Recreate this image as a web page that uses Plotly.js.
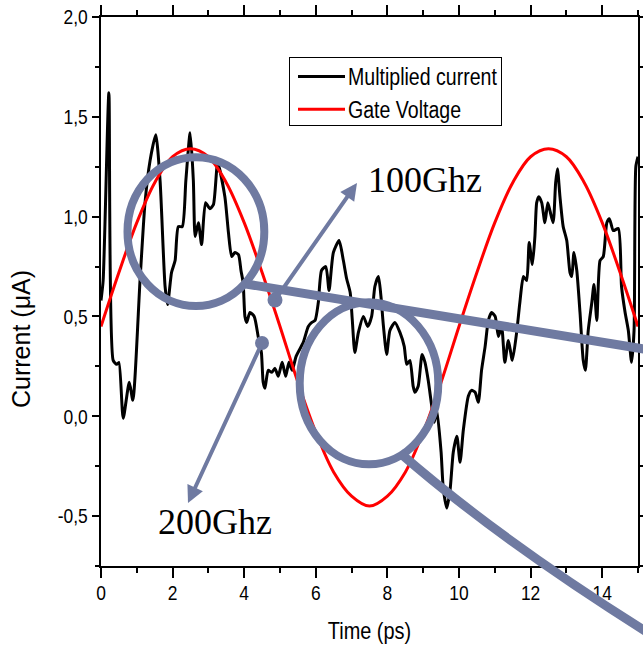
<!DOCTYPE html>
<html>
<head>
<meta charset="utf-8">
<script src="https://cdn.plot.ly/plotly-3.0.1.min.js"></script>
<style>html,body{margin:0;padding:0;background:#fff;}#chart{width:643px;height:652px;}</style>
</head>
<body>
<div id="chart"></div>
<script>
// ---- data ----
const currentTime = [0,0.06,0.22,0.34,0.44,0.50,0.62,0.79,0.89,1.09,
  1.23,1.37,1.53,1.65,1.79,1.86,1.97,2.07,2.16,2.27,
  2.37,2.49,2.58,2.63,2.72,2.81,2.92,3.04,3.14,3.26,
  3.46,3.56,3.65,3.74,3.84,3.91,3.97,4.02,4.07,4.16,
  4.28,4.39,4.48,4.53,4.58,4.67,4.77,4.86,4.95,5.06,
  5.16,5.25,5.34,5.45,5.65,5.79,5.89,5.98,6.07,6.16,
  6.28,6.37,6.49,6.65,6.77,6.86,6.96,7.02,7.09,7.19,
  7.33,7.45,7.56,7.65,7.75,7.82,7.89,7.98,8.07,8.21,
  8.35,8.47,8.54,8.63,8.72,8.77,8.86,8.97,9.05,9.14,
  9.24,9.31,9.38,9.50,9.56,9.66,9.75,9.84,9.94,10.03,
  10.12,10.26,10.35,10.45,10.54,10.63,10.73,10.82,10.91,11.01,
  11.10,11.19,11.28,11.38,11.49,11.61,11.70,11.80,11.89,11.96,
  12.05,12.12,12.17,12.23,12.31,12.40,12.48,12.54,12.63,12.70,
  12.75,12.82,12.91,13.01,13.10,13.15,13.21,13.29,13.38,13.47,
  13.53,13.61,13.71,13.77,13.85,13.94,14.03,14.13,14.20,14.31,
  14.45,14.54,14.64,14.73,14.82,14.89,14.94,15.0];
const currentValues = [0.58,0.68,1.62,0.28,0.26,0.27,-0.01,0.17,0.08,0.68,
  1.07,1.28,1.41,1.18,0.65,0.56,0.72,0.78,0.95,0.95,
  1.18,1.42,1.18,0.90,0.97,0.86,1.07,1.04,1.06,1.27,
  1.10,0.92,0.80,0.82,0.81,0.73,0.67,0.50,0.47,0.52,
  0.50,0.40,0.32,0.17,0.14,0.23,0.22,0.24,0.20,0.27,
  0.20,0.27,0.23,0.30,0.37,0.45,0.47,0.48,0.57,0.73,
  0.75,0.63,0.82,0.88,0.78,0.69,0.62,0.48,0.32,0.42,
  0.50,0.45,0.50,0.65,0.70,0.60,0.45,0.31,0.43,0.47,
  0.42,0.35,0.26,0.28,0.15,0.12,0.15,0.31,0.27,0.18,
  0.05,-0.03,0.03,-0.18,-0.36,-0.46,-0.37,-0.18,-0.10,-0.23,
  -0.07,0.10,0.13,0.12,0.07,0.23,0.35,0.48,0.52,0.50,
  0.40,0.45,0.27,0.38,0.28,0.42,0.57,0.70,0.68,0.87,
  0.76,0.90,1.07,1.10,1.07,0.97,1.07,1.03,0.97,1.17,
  1.24,1.10,0.95,0.88,0.72,0.70,0.82,0.73,0.52,0.28,
  0.23,0.43,0.57,0.66,0.48,0.78,0.80,0.97,0.99,0.93,
  0.94,0.65,0.52,0.43,0.27,0.43,1.25,1.30];
const gateTime = [0,0.5,1,1.5,2,2.5,3,3.5,4,4.5,5,5.5,6,6.5,7,7.5,8,8.5,9,9.5,10,
  10.5,11,11.5,12,12.5,13,13.5,14,14.5,15];
const gateValues = [0.45,0.72,0.97,1.17,1.30,1.34,1.30,1.17,0.97,0.72,0.45,0.17,-0.08,-0.28,-0.40,-0.45,
  -0.40,-0.28,-0.08,0.17,0.45,0.72,0.97,1.17,1.30,1.34,1.30,1.17,0.97,0.72,0.45];
const seriesNames = ['Multiplied current', 'Gate Voltage'];
const xTickVals = [0,2,4,6,8,10,12,14];
const yTickVals = [-0.5,0,0.5,1,1.5,2];
const yTickText = ['-0,5','0,0','0,5','1,0','1,5','2,0'];

// ---- styling ----
const SANS = '"Liberation Sans", Arial, sans-serif';
const SERIF = '"Liberation Serif", "Times New Roman", serif';
const SLATE = '#6f7aa1';
const L = 101, R = 638, T = 17, B = 566;
const PX = px => (px - L) / (R - L);
const PY = py => (B - py) / (B - T);

const traces = [
  {x: currentTime, y: currentValues, name: seriesNames[0], type: 'scatter', mode: 'lines',
   line: {color: '#000000', width: 3, shape: 'spline', smoothing: 0.6}},
  {x: gateTime, y: gateValues, name: seriesNames[1], type: 'scatter', mode: 'lines',
   line: {color: '#ff0000', width: 3, shape: 'spline', smoothing: 1}}
];

const axisCommon = {
  showgrid: false, zeroline: false, showline: true, linecolor: '#000', linewidth: 2,
  mirror: 'ticks', ticks: 'outside', tickcolor: '#000', tickwidth: 2,
  tickfont: {family: SANS, size: 21, color: '#000'}
};

const path2 = 'M ' + PX(400) + ',' + PY(453) + ' Q ' + PX(500) + ',' + PY(540) + ' ' + PX(650) + ',' + PY(634);

const layout = {
  width: 643, height: 652,
  margin: {l: L, r: 643 - R, t: T, b: 652 - B},
  paper_bgcolor: '#fff', plot_bgcolor: '#fff',
  showlegend: true,
  legend: {x: PX(289), y: PY(54), xanchor: 'left', yanchor: 'top', bgcolor: '#fff',
    bordercolor: '#000', borderwidth: 1, font: {family: SANS, size: 23, color: '#000'},
    itemwidth: 48, tracegroupgap: 0},
  xaxis: Object.assign({}, axisCommon, {
    range: [0, 15], tickmode: 'array', tickvals: xTickVals, ticklen: 10, ticklabelstandoff: -3,
    minor: {dtick: 1, tick0: 0, ticklen: 5, tickwidth: 2, tickcolor: '#000', ticks: 'outside'},
    title: {text: 'Time (ps)', font: {family: SANS, size: 24, color: '#000'}, standoff: 19}
  }),
  yaxis: Object.assign({}, axisCommon, {
    range: [-0.75, 2.0], tickmode: 'array', tickvals: yTickVals, ticktext: yTickText, ticklen: 7,
    minor: {dtick: 0.25, tick0: 0, ticklen: 4, tickwidth: 2, tickcolor: '#000', ticks: 'outside'}
  }),
  shapes: [
    {type: 'circle', xref: 'paper', yref: 'paper', x0: PX(127.5), x1: PX(264.3), y0: PY(306), y1: PY(157.3),
     line: {color: SLATE, width: 8}},
    {type: 'circle', xref: 'paper', yref: 'paper', x0: PX(299.7), x1: PX(438.3), y0: PY(464.3), y1: PY(302.3),
     line: {color: SLATE, width: 8}},
    {type: 'line', xref: 'paper', yref: 'paper', x0: PX(246), y0: PY(284), x1: PX(650), y1: PY(350),
     line: {color: SLATE, width: 9}},
    {type: 'path', xref: 'paper', yref: 'paper', path: path2, line: {color: SLATE, width: 9}},
    {type: 'circle', xref: 'paper', yref: 'paper', x0: PX(267.5), x1: PX(282.5), y0: PY(307.5), y1: PY(292.5),
     fillcolor: SLATE, line: {width: 0}},
    {type: 'circle', xref: 'paper', yref: 'paper', x0: PX(255), x1: PX(269), y0: PY(350), y1: PY(336),
     fillcolor: SLATE, line: {width: 0}}
  ],
  annotations: [
    {xref: 'paper', yref: 'paper', x: PX(357), y: PY(183), ax: -82, ay: 117, text: '',
     showarrow: true, arrowhead: 2, arrowsize: 0.85, arrowwidth: 4, arrowcolor: SLATE},
    {xref: 'paper', yref: 'paper', x: PX(188), y: PY(503), ax: 74, ay: -160, text: '',
     showarrow: true, arrowhead: 2, arrowsize: 0.85, arrowwidth: 4, arrowcolor: SLATE},
    {xref: 'paper', yref: 'paper', x: PX(425), y: PY(180), text: '100Ghz', showarrow: false,
     xanchor: 'center', yanchor: 'middle', font: {family: SERIF, size: 36, color: '#000'}},
    {xref: 'paper', yref: 'paper', x: PX(215), y: PY(522), text: '200Ghz', showarrow: false,
     xanchor: 'center', yanchor: 'middle', font: {family: SERIF, size: 36, color: '#000'}},
    {xref: 'paper', yref: 'paper', x: PX(21), y: PY(339), text: 'Current (\u03bcA)', textangle: -90,
     showarrow: false, xanchor: 'center', yanchor: 'middle',
     font: {family: SANS, size: 25, color: '#000'}}
  ]
};

// narrow the sans labels (the original uses a condensed face)
function condense(nodes, factor) {
  nodes.forEach(el => {
    const w = el.getComputedTextLength();
    if (w > 0) {
      el.setAttribute('textLength', (w * factor).toFixed(2));
      el.setAttribute('lengthAdjust', 'spacingAndGlyphs');
    }
  });
}

Plotly.newPlot('chart', traces, layout, {displayModeBar: false, staticPlot: true}).then(gd => {
  condense(gd.querySelectorAll('.xtick text, .ytick text'), 0.83);
  condense(gd.querySelectorAll('.g-xtitle text'), 0.83);
  condense(gd.querySelectorAll('.legend text.legendtext'), 0.85);
  const bg = gd.querySelector('.legend rect.bg');
  if (bg) { bg.setAttribute('y', 3); bg.setAttribute('height', 68); bg.setAttribute('width', 212); }
  gd.querySelectorAll('.legend .legendlines path').forEach(p => p.setAttribute('d', 'M8,0h47'));
});
</script>
</body>
</html>
